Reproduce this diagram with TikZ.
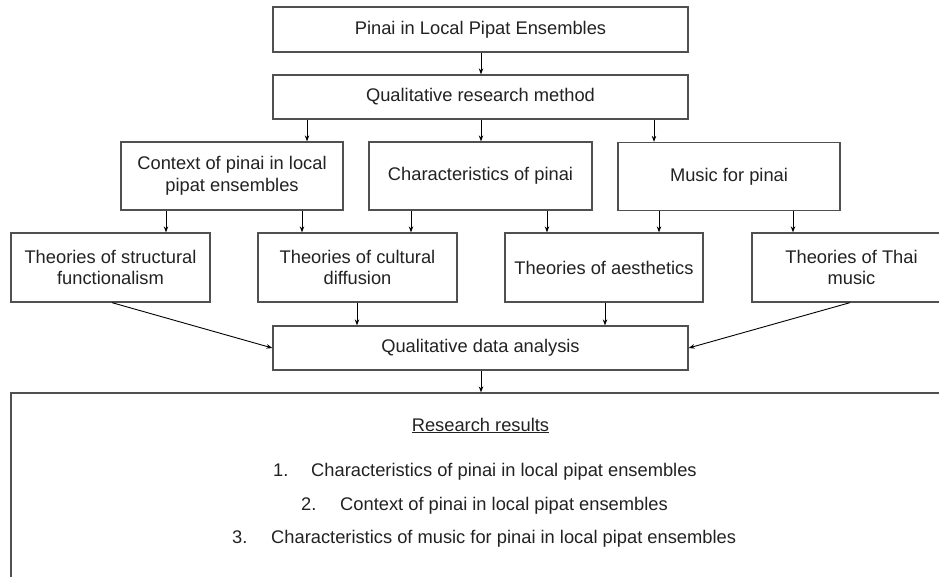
\documentclass[tikz,border=0pt]{standalone}
\usepackage{fontspec}
\setmainfont{Liberation Sans}
\usetikzlibrary{arrows.meta}
\definecolor{boxline}{HTML}{505050}
\definecolor{txt}{HTML}{222222}
\begin{document}
\begin{tikzpicture}[x=1pt,y=-1pt,
  box/.style={draw=boxline, line width=1.3pt, inner sep=0pt, align=center,
    text=txt, font=\fontsize{18.3}{21.5}\selectfont},
  arr/.style={draw=black, line width=0.9pt, -{Stealth[length=6pt,width=4.5pt]}},
  txtnode/.style={inner sep=0pt, text=txt, font=\fontsize{18.3}{21.5}\selectfont}
]
\useasboundingbox (0,0) rectangle (939,576);
\fill[white] (0,0) rectangle (939,576);

\node[box, minimum width=415pt, minimum height=45pt] (b1) at (480.5,29.5) {Pinai in Local Pipat Ensembles};
\node[box, minimum width=415pt, minimum height=44pt] (b2) at (480.5,97) {Qualitative research method};

\node[box, minimum width=222pt, minimum height=68pt] (b3) at (232,176) {Context of pinai in local\\pipat ensembles};
\node[box, minimum width=223pt, minimum height=68pt] (b4) at (480.5,176) {Characteristics of pinai};
\node[box, minimum width=222pt, minimum height=68pt] (b5) at (729,176.5) {Music for pinai};

\node[box, minimum width=199pt, minimum height=69pt] (b6) at (110.5,267.5) {Theories of structural\\functionalism};
\node[box, minimum width=199pt, minimum height=69pt] (b7) at (357.5,267.5) {Theories of cultural\\diffusion};
\node[box, minimum width=198pt, minimum height=69pt] (b8) at (604,267.5) {Theories of aesthetics};
\node[box, minimum width=199pt, minimum height=69pt] (b9) at (851.5,267.5) {Theories of Thai\\music};

\node[box, minimum width=415pt, minimum height=44pt] (b10) at (480.5,348) {Qualitative data analysis};

\node[box, minimum width=949pt, minimum height=210pt] (res) at (485.5,498) {};

\node[txtnode, anchor=base] (rt) at (480.5,431) {\underline{Research results}};
\node[txtnode, anchor=base west] (r1) at (273,476) {\makebox[38pt][l]{1.}Characteristics of pinai in local pipat ensembles};
\node[txtnode, anchor=base west] (r2) at (301,510) {\makebox[39pt][l]{2.}Context of pinai in local pipat ensembles};
\node[txtnode, anchor=base west] (r3) at (232,543) {\makebox[39pt][l]{3.}Characteristics of music for pinai in local pipat ensembles};

\draw[arr] (b1.south -| 481,0) -- (b2.north -| 481,0);
\draw[arr] (b2.south -| 307,0) -- (b3.north -| 307,0);
\draw[arr] (b2.south -| 481,0) -- (b4.north -| 481,0);
\draw[arr] (b2.south -| 654,0) -- (b5.north -| 654,0);

\draw[arr] (b3.south -| 166,0) -- (b6.north -| 166,0);
\draw[arr] (b3.south -| 302,0) -- (b7.north -| 302,0);
\draw[arr] (b4.south -| 411,0) -- (b7.north -| 411,0);
\draw[arr] (b4.south -| 547,0) -- (b8.north -| 547,0);
\draw[arr] (b5.south -| 659,0) -- (b8.north -| 659,0);
\draw[arr] (b5.south -| 793,0) -- (b9.north -| 793,0);

\draw[arr] (b6.south -| 112,0) -- (b10.west);
\draw[arr] (b7.south -| 357,0) -- (b10.north -| 357,0);
\draw[arr] (b8.south -| 605,0) -- (b10.north -| 605,0);
\draw[arr] (b9.south -| 850,0) -- (b10.east);

\draw[arr] (b10.south -| 481,0) -- (res.north -| 481,0);
\end{tikzpicture}
\end{document}
